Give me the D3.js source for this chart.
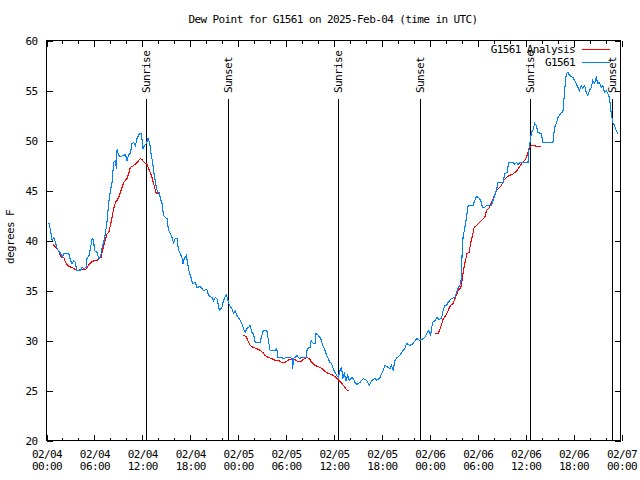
<!DOCTYPE html>
<html><head><meta charset="utf-8">
<script src="https://cdn.jsdelivr.net/npm/d3@7/dist/d3.min.js"></script>
<style>
body{margin:0;background:#fff}
svg{display:block}
text{font-family:"DejaVu Sans Mono",monospace;font-size:11px;letter-spacing:-0.6px;fill:#000}
</style></head><body>
<svg id="chart" width="640" height="480"></svg>
<script>
const chartTitle = "Dew Point for G1561 on 2025-Feb-04 (time in UTC)";
const yAxisLabel = "degrees F";
const seriesNames = ["G1561 Analysis", "G1561"];
const seriesColors = ["#ff0000", "#0080ff"];
const yTickValues = [20, 25, 30, 35, 40, 45, 50, 55, 60];
const xLabelHours = [0, 6, 12, 18, 24, 30, 36, 42, 48, 54, 60, 66, 72];
const xMinorHours = [2, 4, 8, 10, 14, 16, 20, 22, 26, 28, 32, 34, 38, 40, 44, 46, 50, 52, 56, 58, 62, 64, 68, 70];

// G1561 observations (hours after 2025-02-04 00:00 UTC, degrees F)
const obsHours = [0.29,0.5,0.71,0.91,1.13,1.34,1.54,1.75,1.96,2.16,2.79,3.0,3.21,3.41,3.63,3.75,4.25,4.46,4.66,4.96,5.09,5.29,5.5,5.71,5.91,6.0,6.34,6.54,6.75,6.96,7.16,7.38,7.59,7.79,8.0,8.21,8.41,8.63,8.75,8.84,9.04,9.25,9.66,9.88,10.09,10.29,10.5,10.71,10.91,11.13,11.34,11.66,11.88,12.09,12.29,12.5,12.71,12.91,13.09,13.29,13.5,13.71,13.91,14.13,14.25,14.46,14.66,14.88,15.09,15.29,15.5,15.71,15.91,16.13,16.34,16.54,16.75,16.96,17.09,17.25,17.5,17.66,17.88,18.09,18.29,18.63,18.84,19.25,19.46,19.66,20.09,20.29,20.71,20.91,21.13,21.34,21.66,21.96,22.16,22.5,22.66,22.91,23.21,23.41,23.63,23.84,24.04,24.25,24.46,24.66,24.88,25.09,25.29,25.5,25.71,25.91,26.13,26.75,26.96,27.16,27.59,27.79,28.0,28.63,28.84,28.96,29.46,29.66,30.09,30.5,30.75,30.84,30.91,31.13,31.34,31.66,31.96,32.5,32.66,33.0,33.13,33.41,33.63,33.75,34.04,34.34,34.59,34.79,35.0,35.21,35.5,35.71,35.84,36.13,36.34,36.54,36.75,36.96,37.09,37.29,37.5,37.71,37.91,38.21,38.41,38.63,38.84,39.25,39.66,40.09,40.41,40.71,41.13,41.34,41.75,42.16,42.38,42.79,43.0,43.21,43.41,43.63,43.91,44.25,44.46,44.88,45.09,45.5,45.91,46.34,46.75,47.38,47.59,47.88,48.09,48.34,48.63,48.91,49.16,49.46,49.66,49.88,50.09,50.29,50.71,51.13,51.34,51.63,51.84,51.96,52.04,52.16,52.38,52.59,52.79,53.41,53.63,53.84,54.13,54.38,54.59,54.88,55.09,55.71,55.91,56.13,56.34,56.54,57.16,57.38,57.66,57.88,58.41,58.63,58.84,59.04,59.25,60.29,60.41,60.59,60.71,60.91,61.13,61.34,61.54,61.96,62.16,63.41,63.63,63.84,64.04,64.46,64.66,64.88,65.09,65.29,65.5,65.91,66.13,66.34,66.54,66.75,66.96,67.16,67.38,67.59,67.79,68.0,68.21,68.41,68.63,68.84,69.04,69.25,69.46,69.66,69.88,70.09,70.29,70.5,70.63,70.71,70.91,71.13,71.34,71.54];
const obsValues = [41.8,41.0,40.0,40.3,39.8,39.2,38.9,38.8,38.3,38.7,38.7,38.0,37.7,38.0,37.8,37.0,37.0,37.3,37.2,37.3,38.3,38.4,39.2,40.2,40.0,39.0,38.8,38.2,38.3,39.3,39.8,40.7,42.0,43.8,45.0,45.8,47.8,48.0,47.2,49.1,48.5,48.4,48.5,48.6,48.0,48.6,48.7,49.7,49.8,49.5,50.2,50.7,50.7,49.2,49.5,49.7,50.2,49.8,48.7,47.8,46.5,45.5,44.8,44.8,44.2,43.7,42.5,42.3,42.2,41.0,40.7,40.3,39.8,40.2,40.2,39.0,38.7,38.3,37.7,38.2,38.5,37.8,36.8,36.3,35.7,35.8,35.3,35.4,35.2,35.0,35.1,34.5,34.3,34.0,34.3,34.2,33.0,33.3,34.0,34.6,34.2,33.5,33.2,32.7,33.0,32.5,32.3,32.0,31.7,31.2,30.8,31.2,31.3,31.5,30.8,30.7,29.8,29.8,30.5,31.0,31.0,30.0,29.0,29.0,29.2,28.3,28.3,28.2,28.3,28.3,28.2,27.2,28.2,28.3,28.5,28.2,28.3,28.3,29.2,29.3,30.0,29.7,29.7,30.7,30.5,30.2,29.5,29.2,28.7,28.3,27.8,27.7,27.3,26.8,26.5,26.3,27.0,27.3,26.2,26.7,26.0,26.5,26.0,26.3,26.2,25.8,25.6,25.8,26.2,26.0,25.5,26.0,26.2,26.0,26.3,27.0,27.5,27.3,27.2,27.5,27.0,28.0,28.3,28.5,28.8,29.2,29.7,29.5,29.7,30.2,30.0,30.3,30.7,31.0,30.5,31.8,32.0,32.3,32.1,32.2,33.0,33.5,33.5,33.8,34.2,34.3,34.8,35.4,35.5,36.5,38.7,40.3,41.3,42.3,43.5,43.5,44.0,44.4,44.3,44.0,43.3,43.3,43.5,43.5,44.0,44.5,45.0,45.8,45.8,46.7,46.8,47.8,47.8,47.6,47.8,47.6,47.8,47.8,49.2,50.0,50.8,51.0,51.7,51.5,50.8,50.7,49.8,49.8,51.3,51.7,52.3,52.8,52.8,55.0,56.7,56.8,56.5,56.3,56.0,55.7,55.3,55.0,55.5,55.2,55.5,54.8,54.5,55.0,55.3,56.0,55.7,56.3,55.7,55.8,55.3,55.5,54.8,55.0,54.7,54.3,53.3,52.7,51.8,51.5,51.0,50.7];

// G1561 Analysis (null = no analysis)
const anaHours = [0.79,1.34,1.54,1.84,2.16,2.38,2.79,3.21,3.63,3.84,4.25,4.88,5.09,5.41,5.71,6.13,6.34,6.54,6.84,6.96,7.16,7.38,7.59,7.79,8.0,8.21,8.41,8.63,8.91,9.13,9.34,9.66,10.09,10.29,10.5,10.91,11.34,11.75,11.96,12.25,12.59,12.79,13.0,13.21,13.41,13.63,13.75,14.04,
  19.0,
  24.66,25.0,25.21,25.5,25.91,26.34,26.75,27.09,27.38,27.79,28.21,28.63,29.04,29.46,29.88,30.16,30.5,30.84,31.13,31.41,31.84,32.16,32.59,32.91,33.21,33.63,34.04,34.46,34.88,35.29,35.71,36.13,36.41,36.75,37.09,37.38,37.66,37.91,
  43.0,
  48.63,49.04,49.34,49.66,50.0,50.29,50.59,50.91,51.21,51.54,51.88,52.09,52.25,52.46,52.66,52.91,53.13,53.34,53.54,53.84,54.25,54.59,54.88,55.09,55.38,55.71,56.0,56.34,56.63,56.96,57.25,57.59,57.91,58.34,58.63,58.91,59.25,59.59,59.88,60.09,60.29,60.5,60.71,61.13,61.34,61.96];
const anaValues = [39.6,39.2,38.9,38.3,38.3,37.8,37.4,37.3,37.1,37.0,37.1,37.1,37.3,37.7,37.9,38.0,38.0,38.2,38.3,38.8,39.5,40.1,40.7,40.8,41.5,42.3,43.2,43.8,44.1,44.5,45.0,45.8,46.2,46.7,47.3,47.5,47.8,48.2,48.1,47.8,47.6,47.2,46.8,46.3,45.7,45.0,44.7,44.7,
  null,
  30.5,30.4,30.0,29.5,29.3,29.2,29.0,28.8,28.5,28.3,28.2,28.0,28.0,27.8,27.8,28.0,28.1,28.2,28.1,27.9,27.9,28.1,28.3,28.2,27.8,27.5,27.4,27.2,26.9,26.7,26.6,26.4,26.2,25.9,25.6,25.3,25.0,25.0,
  null,
  30.7,30.7,31.3,32.1,32.5,33.0,33.5,33.7,34.3,35.0,35.3,36.3,37.2,38.0,38.7,38.8,39.8,40.5,41.3,41.5,41.8,42.1,42.3,43.0,43.2,43.8,44.3,45.0,45.2,45.5,46.0,46.3,46.5,46.6,46.8,47.0,47.4,47.8,48.0,48.3,48.8,49.2,49.5,49.5,49.4,49.4];

const sunLabels = ["Sunrise", "Sunset", "Sunrise", "Sunset", "Sunrise", "Sunset"];
const sunHours = [12.53, 22.85, 36.51, 46.8, 60.6, 70.9];

const t0 = Date.UTC(2025, 1, 4, 0, 0, 0);
const toDate = h => new Date(t0 + h * 3600000);

const svg = d3.select("#chart");
const L = 46.5, R = 620.5, T = 40.5, B = 440.5;
const x = d3.scaleUtc().domain([toDate(0), toDate(72)]).range([L, R + 1]);
const y = d3.scaleLinear().domain([20, 60]).range([B, T]);

svg.append("rect").attr("width", 640).attr("height", 480).attr("fill", "#fff");

// title
svg.append("text").attr("x", 333).attr("y", 23).attr("text-anchor", "middle").text(chartTitle);

// y label
svg.append("text").attr("transform", "translate(10,237) rotate(-90)")
  .attr("text-anchor", "middle").attr("dy", "0.35em").text(yAxisLabel);

// axes
const fmtD = d3.utcFormat("%m/%d"), fmtT = d3.utcFormat("%H:%M");
const xb = svg.append("g").attr("transform", `translate(0,${B})`)
  .call(d3.axisBottom(x).tickValues(xLabelHours.map(toDate)).tickSizeInner(-6).tickSizeOuter(0).tickFormat(""));
xb.selectAll(".tick").each(function(d) {
  const t = d3.select(this).append("text").attr("fill", "#000").attr("text-anchor", "middle");
  t.append("tspan").attr("x", 0).attr("y", 17).text(fmtD(d));
  t.append("tspan").attr("x", 0).attr("y", 29).text(fmtT(d));
});
const xbm = svg.append("g").attr("transform", `translate(0,${B})`)
  .call(d3.axisBottom(x).tickValues(xMinorHours.map(toDate)).tickSizeInner(-3).tickSizeOuter(0).tickFormat(""));
const xt = svg.append("g").attr("transform", `translate(0,${T})`)
  .call(d3.axisTop(x).tickValues(xLabelHours.map(toDate)).tickSizeInner(-6).tickSizeOuter(0).tickFormat(""));
const xtm = svg.append("g").attr("transform", `translate(0,${T})`)
  .call(d3.axisTop(x).tickValues(xMinorHours.map(toDate)).tickSizeInner(-3).tickSizeOuter(0).tickFormat(""));
const yl = svg.append("g").attr("transform", `translate(${L},0)`)
  .call(d3.axisLeft(y).tickValues(yTickValues).tickSizeInner(-6).tickSizeOuter(0).tickPadding(9));
const yr = svg.append("g").attr("transform", `translate(${R},0)`)
  .call(d3.axisRight(y).tickValues(yTickValues).tickSizeInner(-6).tickSizeOuter(0).tickFormat(""));
svg.selectAll(".domain").remove();
svg.selectAll(".tick line").attr("stroke", "#000").attr("shape-rendering", "crispEdges");
yl.selectAll("text").attr("dy", "0.35em");
[xb, xbm, xt, xtm, yl, yr].forEach(g => g.attr("font-family", null).attr("font-size", null));

// sun events
const sun = svg.append("g");
sunHours.forEach((h, i) => {
  const sx = Math.round(x(toDate(h)) - 0.5) + 0.5;
  sun.append("line").attr("x1", sx).attr("x2", sx).attr("y1", 99).attr("y2", B)
    .attr("stroke", "#000").attr("shape-rendering", "crispEdges");
  sun.append("text").attr("transform", `translate(${sx},93) rotate(-90)`)
    .attr("dy", "0.35em").attr("text-anchor", "start").text(sunLabels[i]);
});

// series
const line = d3.line().defined(d => d[1] !== null).x(d => x(toDate(d[0]))).y(d => y(d[1]));
const anaData = anaHours.map((h, i) => [h, anaValues[i]]);
const obsData = obsHours.map((h, i) => [h, obsValues[i]]);
svg.append("path").datum(anaData).attr("d", line).attr("fill", "none")
  .attr("stroke", seriesColors[0]).attr("stroke-width", 1.1).attr("shape-rendering", "crispEdges");
svg.append("path").datum(obsData).attr("d", line).attr("fill", "none")
  .attr("stroke", seriesColors[1]).attr("stroke-width", 1.1).attr("shape-rendering", "crispEdges");

// frame
svg.append("rect").attr("x", L).attr("y", T).attr("width", R - L).attr("height", B - T)
  .attr("fill", "none").attr("stroke", "#000").attr("shape-rendering", "crispEdges");

// legend
const leg = svg.append("g");
seriesNames.forEach((n, i) => {
  const ly = 49.5 + i * 13;
  leg.append("text").attr("x", 575).attr("y", ly).attr("dy", "0.35em").attr("text-anchor", "end").text(n);
  leg.append("line").attr("x1", 582).attr("x2", 610).attr("y1", ly).attr("y2", ly)
    .attr("stroke", seriesColors[i]).attr("shape-rendering", "crispEdges");
});
</script>
</body></html>
